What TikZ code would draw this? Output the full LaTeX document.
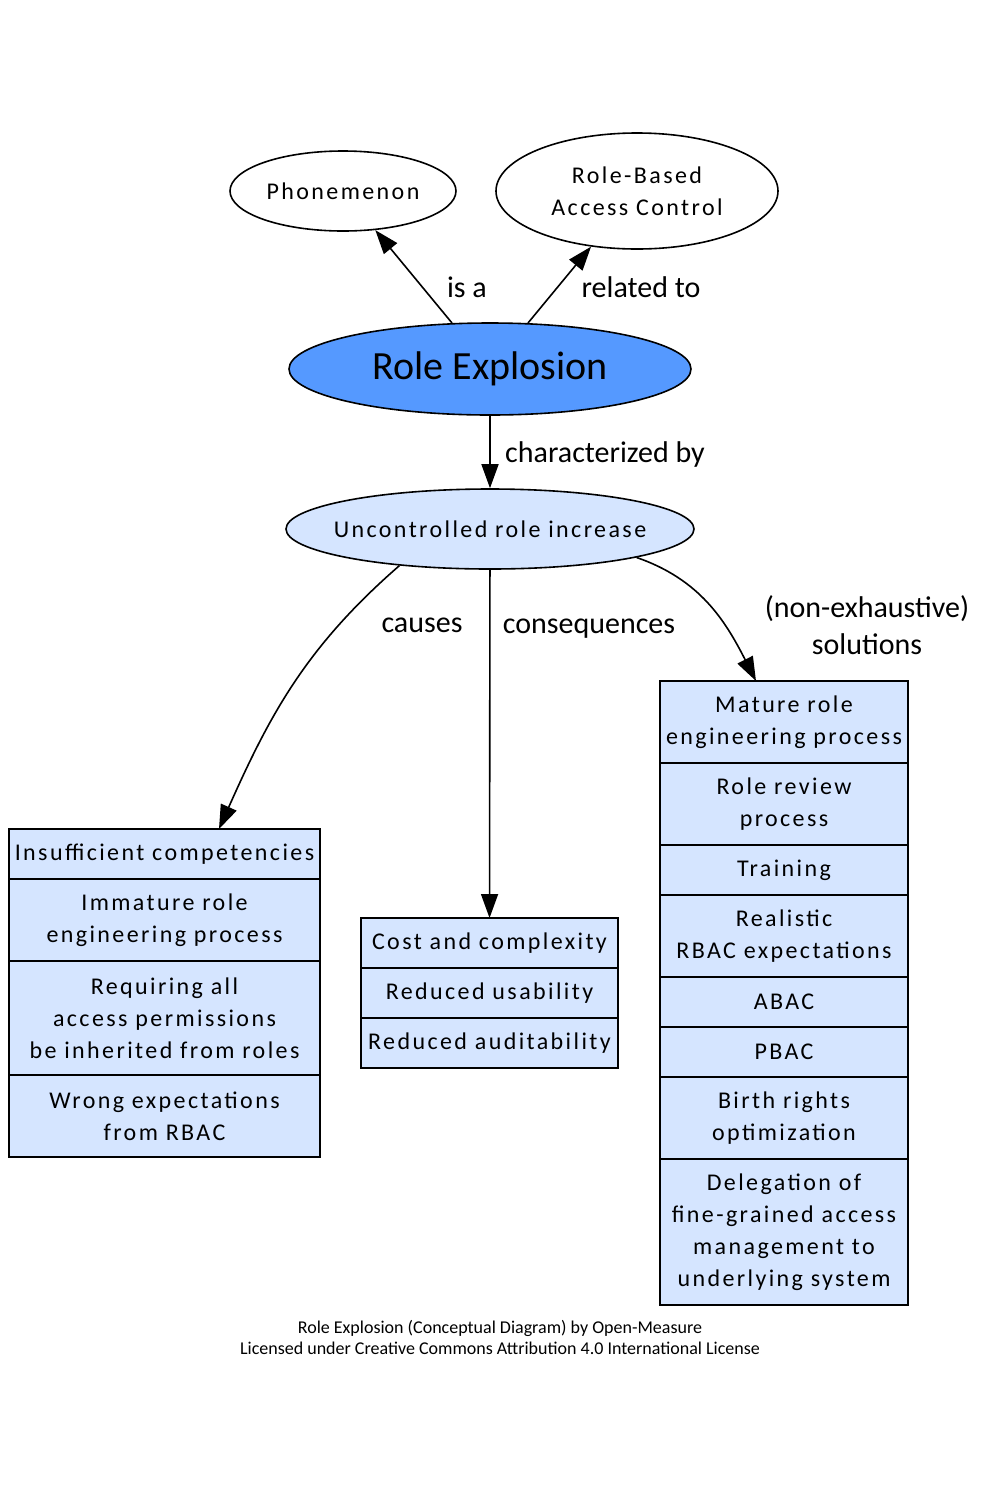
\documentclass[tikz,border=0pt]{standalone}
\usepackage{fontspec}
\setmainfont{Carlito}
\newfontfamily\spacedfont[LetterSpace=10]{Carlito}
\usetikzlibrary{positioning, arrows.meta, shapes.geometric}
\definecolor{roleBlue}{HTML}{5599FF}
\definecolor{paleBlue}{HTML}{D5E5FF}

\begin{document}
\begin{tikzpicture}[
    x=1pt, y=-1pt,
    >={Triangle[length=24pt,width=17pt]},
    topic/.style={draw, ellipse, line width=1.6pt, inner sep=0pt, align=center,
                  font=\spacedfont\fontsize{24}{32}\selectfont},
    row/.style={draw, rectangle, line width=1.6pt, fill=paleBlue, inner sep=0pt,
                outer sep=0pt, align=center, minimum height=50pt,
                font=\spacedfont\fontsize{24}{32}\selectfont},
    cause/.style={row, minimum width=311pt},
    cons/.style={row, minimum width=257pt},
    sol/.style={row, minimum width=248pt},
    rel/.style={->, line width=1.6pt},
    lbl/.style={font=\fontsize{30}{37}\selectfont, inner sep=0pt, align=center}
]
\useasboundingbox (0,0) rectangle (1000,1500);

% ---- concept nodes ----
\node[topic, minimum width=226pt, minimum height=80pt] (phen) at (343,191) {\makebox[0pt]{Phonemenon}};
\node[topic, minimum width=282pt, minimum height=116pt] (rbac) at (637,191) {Role-Based\\Access Control};
\node[topic, fill=roleBlue, minimum width=402pt, minimum height=92pt,
      font=\fontsize{40}{48}\selectfont] (re) at (490,369) {\makebox[0pt]{\raisebox{-3pt}{Role Explosion}}};
\node[topic, fill=paleBlue, minimum width=408pt, minimum height=80pt] (inc) at (490,529) {\makebox[0pt]{Uncontrolled role increase}};

% ---- causes ----
\node[cause, anchor=north] (c1) at (164.5,829) {Insufficient competencies};
\node[cause, minimum height=82pt, below=0pt of c1] (c2) {Immature role\\engineering process};
\node[cause, minimum height=114pt, below=0pt of c2] (c3) {Requiring all\\access permissions\\be inherited from roles};
\node[cause, minimum height=82pt, below=0pt of c3] (c4) {Wrong expectations\\from RBAC};

% ---- consequences ----
\node[cons, anchor=north] (q1) at (489.5,918) {Cost and complexity};
\node[cons, below=0pt of q1] (q2) {Reduced usability};
\node[cons, below=0pt of q2] (q3) {Reduced auditability};

% ---- solutions ----
\node[sol, anchor=north, minimum height=82pt] (s1) at (784,681) {Mature role\\engineering process};
\node[sol, minimum height=82pt, below=0pt of s1] (s2) {Role review\\process};
\node[sol, below=0pt of s2] (s3) {Training};
\node[sol, minimum height=82pt, below=0pt of s3] (s4) {Realistic\\RBAC expectations};
\node[sol, below=0pt of s4] (s5) {ABAC};
\node[sol, below=0pt of s5] (s6) {PBAC};
\node[sol, minimum height=82pt, below=0pt of s6] (s7) {Birth rights\\optimization};
\node[sol, minimum height=146pt, below=0pt of s7] (s8) {Delegation of\\fine-grained access\\management to\\underlying system};

% ---- relations ----
\draw[rel] (re) -- (phen);
\draw[rel] (re) -- (rbac);
\draw[rel] (re) -- (inc);
\draw[rel] (inc.202) to[out=221, in=66] ([xshift=54.5pt]c1.north);
\draw[rel] (inc) -- (q1);
\draw[rel] (inc.349) to[out=-19, in=117] ([xshift=-28pt]s1.north);

\node[lbl] (lisa) at (467,287) {is a};
\node[lbl] (lrel) at (641,287) {related to};
\node[lbl] (lchar) at (605,454) {characterized by};
\node[lbl] (lcause) at (422,625) {causes};
\node[lbl] (lcons) at (589,629) {consequences};
\node[lbl] (lsol) at (867,625) {(non-exhaustive)\\solutions};

\node[font=\fontsize{18}{21}\selectfont, align=center] (credit) at (500,1337)
     {Role Explosion (Conceptual Diagram) by Open-Measure\\Licensed under Creative Commons Attribution 4.0 International License};
\end{tikzpicture}
\end{document}
